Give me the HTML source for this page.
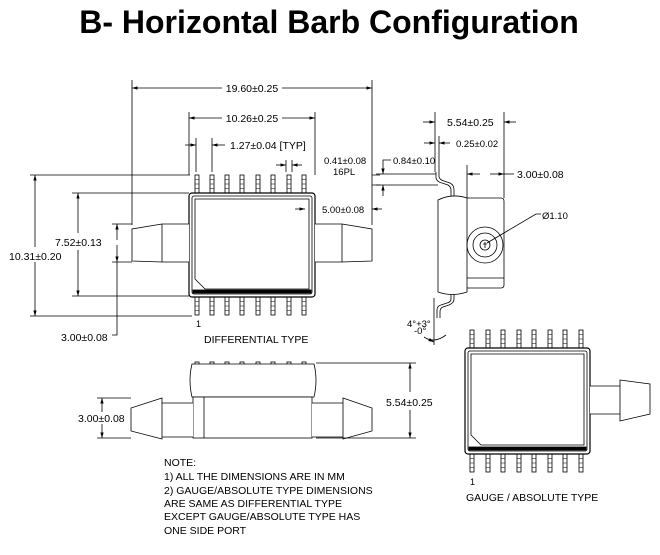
<!DOCTYPE html>
<html><head><meta charset="utf-8"><style>
html,body{margin:0;padding:0;background:#fff;}
svg{display:block;font-family:"Liberation Sans",sans-serif;}
</style></head><body>
<svg width="660" height="555" viewBox="0 0 660 555" xmlns="http://www.w3.org/2000/svg">
<defs>
<marker id="a" viewBox="0 0 10 10" refX="10" refY="5" markerWidth="7" markerHeight="7" orient="auto-start-reverse"><path d="M0,2 L10,5 L0,8 z" fill="#000"/></marker>
<g id="pin"><rect x="-2" y="0" width="4" height="18" fill="#fff" stroke="#000" stroke-width="0.8"/><path d="M-2,4.5h4M-2,9h4M-2,13.5h4" stroke="#000" stroke-width="0.6"/></g>
</defs>
<text x="329" y="33" text-anchor="middle" font-size="32" font-weight="bold">B- Horizontal Barb Configuration</text>

<g stroke="#000" fill="none" stroke-width="0.8" font-size="10.5">
<path d="M132,80V225M372,80V225M189,112V175M315,112V175M196,138V172M212,138V172M286,160V172M292,160V172"/>
<line x1="132" y1="88" x2="222" y2="88" marker-start="url(#a)"/><line x1="282" y1="88" x2="372" y2="88" marker-end="url(#a)"/>
<line x1="189" y1="118" x2="222" y2="118" marker-start="url(#a)"/><line x1="282" y1="118" x2="315" y2="118" marker-end="url(#a)"/>
<line x1="185" y1="145" x2="196" y2="145" marker-end="url(#a)"/><line x1="225" y1="145" x2="212" y2="145" marker-end="url(#a)"/>
<line x1="276" y1="165" x2="286" y2="165" marker-end="url(#a)"/><line x1="302" y1="165" x2="292" y2="165" marker-end="url(#a)"/>
<g>
<use href="#pin" x="197" y="175"/><use href="#pin" x="212" y="175"/><use href="#pin" x="227" y="175"/><use href="#pin" x="242" y="175"/><use href="#pin" x="258" y="175"/><use href="#pin" x="273" y="175"/><use href="#pin" x="289" y="175"/><use href="#pin" x="304" y="175"/>
<use href="#pin" x="197" y="297"/><use href="#pin" x="212" y="297"/><use href="#pin" x="227" y="297"/><use href="#pin" x="242" y="297"/><use href="#pin" x="258" y="297"/><use href="#pin" x="273" y="297"/><use href="#pin" x="289" y="297"/><use href="#pin" x="304" y="297"/>
</g>
<rect x="189" y="193" width="126" height="104" rx="3" fill="#fff" stroke-width="1.2"/>
<rect x="192" y="196" width="120" height="98" rx="2"/>
<path d="M195,199H309V289H205L195,279Z"/>
<rect x="193" y="290" width="118" height="3" fill="#000"/>
<path d="M189,224H162V262H189M162,224L132,229V261L162,262Z" fill="#fff"/>
<path d="M315,224H342V262H315M342,224L372,229V261L342,262Z" fill="#fff"/>
<path d="M30,175H190M30,316H192M72,193H189M72,296H189M112,224H132M112,262H132"/>
<line x1="35" y1="247" x2="35" y2="175" marker-end="url(#a)"/><line x1="35" y1="262" x2="35" y2="316" marker-end="url(#a)"/>
<line x1="78" y1="233" x2="78" y2="193" marker-end="url(#a)"/><line x1="78" y1="250" x2="78" y2="296" marker-end="url(#a)"/>
<line x1="117" y1="240" x2="117" y2="224" marker-end="url(#a)"/><line x1="117" y1="245" x2="117" y2="262" marker-end="url(#a)"/>
<path d="M117,262V335H112"/>
<line x1="295" y1="209" x2="305" y2="209" marker-end="url(#a)"/><line x1="382" y1="209" x2="372" y2="209" marker-end="url(#a)"/>
<path d="M372,175H380M372,185H380"/>

<path d="M435,112V172M504,112V198M439,136V172M467,165V198"/>
<line x1="423" y1="122" x2="435" y2="122" marker-end="url(#a)"/><line x1="516" y1="122" x2="504" y2="122" marker-end="url(#a)"/>
<line x1="424" y1="143" x2="435" y2="143" marker-end="url(#a)"/><line x1="450" y1="143" x2="439" y2="143" marker-end="url(#a)"/>
<line x1="480" y1="174" x2="467" y2="174" marker-end="url(#a)"/><line x1="490" y1="174" x2="504" y2="174" marker-end="url(#a)"/>
<line x1="504" y1="174" x2="514" y2="174"/>
<path d="M376,174H436M376,185H438"/>
<line x1="383" y1="166" x2="383" y2="174" marker-end="url(#a)"/><line x1="383" y1="196" x2="383" y2="185" marker-end="url(#a)"/>
<path d="M383,166V160H391"/>
<path d="M436,172V178Q437,182 442,183L448,185Q451,187 451,190V197M439,172V177Q440,180 444,181L450,183Q454,185 454,190V197"/>
<path d="M451,293V299Q451,302 447,303L441,305Q437,306 437,310V318M454,293V299Q454,303 449,305L443,307Q440,308 440,312V318"/>
<path d="M438,200Q452,193 467,198V292Q452,297 438,292Z" fill="#fff"/>
<path d="M467,198H501Q504,198 504,201V285Q504,288 501,288H467"/>
<path d="M467,278H504"/>
<circle cx="485" cy="245" r="18"/><circle cx="485" cy="245" r="12"/><circle cx="485" cy="245" r="5"/>
<path d="M485,242V248M483,244H487"/>
<path d="M487,243L536,214H541"/>
<path d="M434,298V345"/>
<path d="M424,337Q434,344 446,335"/>
<line x1="430" y1="340" x2="434" y2="342" marker-end="url(#a)"/>

<g>
<rect x="195" y="362" width="4" height="4"/><rect x="210" y="362" width="4" height="4"/><rect x="225" y="362" width="4" height="4"/><rect x="240" y="362" width="4" height="4"/><rect x="256" y="362" width="4" height="4"/><rect x="271" y="362" width="4" height="4"/><rect x="287" y="362" width="4" height="4"/><rect x="302" y="362" width="4" height="4"/>
</g>
<path d="M192,364H314Q318,380 314,397H192Q188,380 192,364Z" fill="#fff"/>
<rect x="193" y="397" width="119" height="41" fill="#fff"/>
<path d="M204,397V438"/>
<path d="M193,403H162V437H193M162,398L131,408V431L162,439Z" fill="#fff"/>
<path d="M312,403H343V437H312M343,398L372,408V431L343,439Z" fill="#fff"/>
<path d="M316,363H416M316,438H416M97,398H131M97,438H131"/>
<line x1="410" y1="392" x2="410" y2="363" marker-end="url(#a)"/><line x1="410" y1="410" x2="410" y2="438" marker-end="url(#a)"/>
<line x1="102" y1="412" x2="102" y2="398" marker-end="url(#a)"/><line x1="102" y1="424" x2="102" y2="438" marker-end="url(#a)"/>

<g>
<use href="#pin" x="472" y="330"/><use href="#pin" x="488" y="330"/><use href="#pin" x="503" y="330"/><use href="#pin" x="519" y="330"/><use href="#pin" x="534" y="330"/><use href="#pin" x="550" y="330"/><use href="#pin" x="565" y="330"/><use href="#pin" x="581" y="330"/>
<use href="#pin" x="472" y="454"/><use href="#pin" x="488" y="454"/><use href="#pin" x="503" y="454"/><use href="#pin" x="519" y="454"/><use href="#pin" x="534" y="454"/><use href="#pin" x="550" y="454"/><use href="#pin" x="565" y="454"/><use href="#pin" x="581" y="454"/>
</g>
<rect x="465" y="348" width="125" height="106" rx="3" fill="#fff" stroke-width="1.2"/>
<rect x="468" y="351" width="119" height="100" rx="2"/>
<path d="M471,354H584V445H481L471,435Z"/>
<rect x="469" y="447" width="117" height="3" fill="#000"/>
<path d="M590,386H620V414H590M620,380L650,384V414L620,421Z" fill="#fff"/>
</g>

<g font-size="10.5" fill="#000">
<text x="252" y="92" text-anchor="middle">19.60±0.25</text>
<text x="252" y="122" text-anchor="middle">10.26±0.25</text>
<text x="230" y="149">1.27±0.04 [TYP]</text>
<text x="324" y="164" font-size="9.5">0.41±0.08</text>
<text x="333" y="175" font-size="9.5">16PL</text>
<text x="322" y="213" font-size="9.5">5.00±0.08</text>
<text x="9" y="260">10.31±0.20</text>
<text x="55" y="246">7.52±0.13</text>
<text x="61" y="341">3.00±0.08</text>
<text x="196" y="327" font-size="9">1</text>
<text x="204" y="343">DIFFERENTIAL TYPE</text>
<text x="447" y="126">5.54±0.25</text>
<text x="456" y="147" font-size="9.5">0.25±0.02</text>
<text x="393" y="164" font-size="9.5">0.84±0.10</text>
<text x="517" y="178">3.00±0.08</text>
<text x="542" y="219" font-size="9.5">Ø1.10</text>
<text x="407" y="327" font-size="9.5">4°+3°</text>
<text x="414" y="334" font-size="9.5">-0°</text>
<rect x="386" y="395" width="48" height="13" fill="#fff"/>
<text x="386" y="406">5.54±0.25</text>
<text x="78" y="422">3.00±0.08</text>
<text x="164" y="466">NOTE:</text>
<text x="164" y="480">1) ALL THE DIMENSIONS ARE IN MM</text>
<text x="164" y="494">2) GAUGE/ABSOLUTE TYPE DIMENSIONS</text>
<text x="164" y="507">ARE SAME AS DIFFERENTIAL TYPE</text>
<text x="164" y="520">EXCEPT GAUGE/ABSOLUTE TYPE HAS</text>
<text x="164" y="534">ONE SIDE PORT</text>
<text x="470" y="485" font-size="9">1</text>
<text x="466" y="501">GAUGE / ABSOLUTE TYPE</text>
</g>
</svg>
</body></html>
